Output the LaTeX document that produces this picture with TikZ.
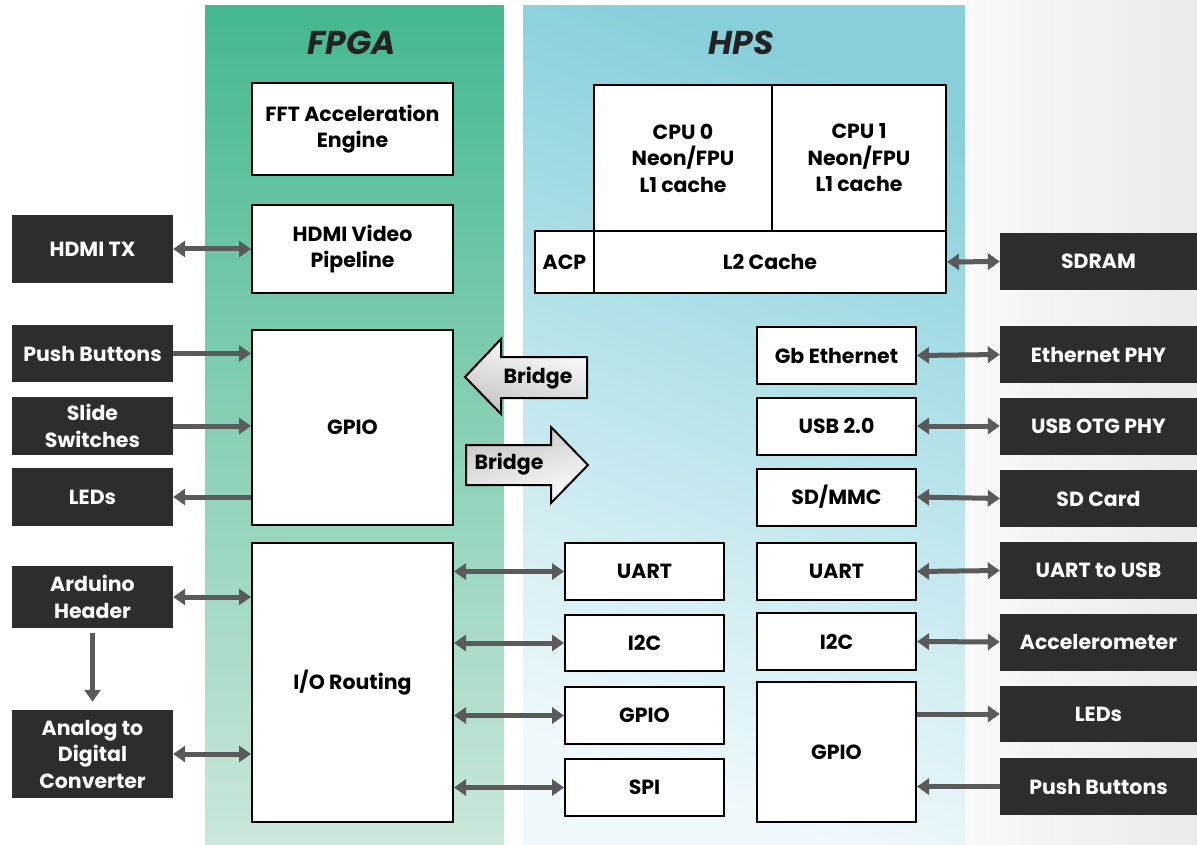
\documentclass[tikz,border=0pt]{standalone}
\usepackage{fontspec}
\setmainfont{Poppins}
\usetikzlibrary{arrows.meta,calc}
\definecolor{darkbox}{HTML}{2D2D2D}
\definecolor{arrowgray}{HTML}{5A5A5A}
\definecolor{fpgaTop}{HTML}{44B88F}
\definecolor{fpgaBot}{HTML}{CAE7D9}
\definecolor{hpsTop}{HTML}{86CFDB}
\definecolor{hpsBot}{HTML}{EFF9FB}
\definecolor{rbgL}{HTML}{F9F9F9}
\definecolor{rbgR}{HTML}{EAEAEA}
\definecolor{titlecol}{HTML}{222222}
\definecolor{bridgegray}{HTML}{C4C4C4}
\newcommand\bxf{\bfseries\fontsize{20.5}{26.5}\selectfont}
\begin{document}
\begin{tikzpicture}[x=1pt,y=-1pt,
  wbox/.style={draw=black, line width=2pt, fill=white, text=black, font=\bxf, align=center, inner sep=0pt},
  dbox/.style={fill=darkbox, text=white, font=\bxf, align=center, inner sep=0pt},
  titletext/.style={font=\bfseries\itshape\fontsize{33}{38}\selectfont, text=titlecol, inner sep=0pt},
  bridgetext/.style={font=\bxf, text=black, inner sep=0pt},
  bridgeshape/.style={draw=black, line width=2pt, line join=miter},
  biarrow/.style={draw=arrowgray, line width=5pt, {Triangle[width=16pt,length=12pt]}-{Triangle[width=16pt,length=12pt]}},
  onearrow/.style={draw=arrowgray, line width=5pt, -{Triangle[width=16pt,length=12pt]}}
]
\useasboundingbox (0,0) rectangle (1197,845);
\fill[white] (0,0) rectangle (1197,845);
\shade[left color=rbgL, right color=rbgR] (965,0) rectangle (1197,845);
\shade[top color=fpgaTop, bottom color=fpgaBot] (205,6) rectangle (504,845);
\shade[top color=hpsTop, bottom color=hpsBot, shading angle=-20] (523,6) rectangle (965,845);

% titles
\node[titletext] (fpgatitle) at (352,43) {FPGA};
\node[titletext] (hpstitle) at (741,43) {HPS};

% FPGA blocks
\node[wbox, minimum width=201pt, minimum height=92pt] (fft) at (352.5,129) {FFT Acceleration\\Engine};
\node[wbox, minimum width=201pt, minimum height=88pt] (hdmiv) at (352.5,249) {HDMI Video\\Pipeline};
\node[wbox, minimum width=201pt, minimum height=195pt] (gpiof) at (352.5,427.5) {GPIO};
\node[wbox, minimum width=201pt, minimum height=279pt] (io) at (352.5,682.5) {I/O Routing};

% left external
\node[dbox, minimum width=161pt, minimum height=68pt] (hdmitx) at (92.5,249) {HDMI TX};
\node[dbox, minimum width=161pt, minimum height=57pt] (pbl) at (92.5,353.5) {Push Buttons};
\node[dbox, minimum width=161pt, minimum height=58pt] (ssw) at (92.5,426) {Slide\\Switches};
\node[dbox, minimum width=161pt, minimum height=58pt] (ledl) at (92.5,497) {LEDs};
\node[dbox, minimum width=161pt, minimum height=62pt] (ard) at (92.5,597) {Arduino\\Header};
\node[dbox, minimum width=161pt, minimum height=88pt] (adc) at (92.5,754) {Analog to\\Digital\\Converter};

% HPS CPU complex
\node[wbox, minimum width=178pt, minimum height=146pt] (cpu0) at (683,158) {CPU 0\\Neon/FPU\\L1 cache};
\node[wbox, minimum width=174pt, minimum height=146pt] (cpu1) at (859,158) {CPU 1\\Neon/FPU\\L1 cache};
\node[wbox, minimum width=352pt, minimum height=62pt] (l2) at (770,262) {L2 Cache};
\node[wbox, minimum width=59pt, minimum height=62pt] (acp) at (564.5,262) {ACP};

% HPS peripherals column 1
\node[wbox, minimum width=159pt, minimum height=57pt] (uartf) at (644.5,571.5) {UART};
\node[wbox, minimum width=159pt, minimum height=56pt] (i2cf) at (644.5,643) {I2C};
\node[wbox, minimum width=159pt, minimum height=57pt] (gpiofh) at (644.5,715.5) {GPIO};
\node[wbox, minimum width=159pt, minimum height=57pt] (spi) at (644.5,787.5) {SPI};

% HPS peripherals column 2
\node[wbox, minimum width=159pt, minimum height=57pt] (eth) at (836.5,355.5) {Gb Ethernet};
\node[wbox, minimum width=159pt, minimum height=57pt] (usb) at (836.5,426) {USB 2.0};
\node[wbox, minimum width=159pt, minimum height=57pt] (sd) at (836.5,497) {SD/MMC};
\node[wbox, minimum width=159pt, minimum height=57pt] (uarth) at (836.5,571.5) {UART};
\node[wbox, minimum width=159pt, minimum height=57pt] (i2ch) at (836.5,641.5) {I2C};
\node[wbox, minimum width=159pt, minimum height=140pt] (gpioh) at (836.5,752) {GPIO};

% right external
\node[dbox, minimum width=197pt, minimum height=57pt] (sdram) at (1098.5,261.5) {SDRAM};
\node[dbox, minimum width=197pt, minimum height=57pt] (ethphy) at (1098.5,354.5) {Ethernet PHY};
\node[dbox, minimum width=197pt, minimum height=57pt] (usbphy) at (1098.5,426) {USB OTG PHY};
\node[dbox, minimum width=197pt, minimum height=57pt] (sdcard) at (1098.5,498.5) {SD Card};
\node[dbox, minimum width=197pt, minimum height=57pt] (uartusb) at (1098.5,570.5) {UART to USB};
\node[dbox, minimum width=197pt, minimum height=57pt] (accel) at (1098.5,642) {Accelerometer};
\node[dbox, minimum width=197pt, minimum height=56pt] (ledr) at (1098.5,714) {LEDs};
\node[dbox, minimum width=197pt, minimum height=57pt] (pbr) at (1098.5,786.5) {Push Buttons};

% bridges
\shade[bridgeshape, left color=white, right color=bridgegray, shading angle=-15]
  (465,377) -- (501,339) -- (501,357) -- (587,357) -- (587,398) -- (501,398) -- (501,414) -- cycle;
\node[bridgetext] (bridge1) at (538,378) {Bridge};
\shade[bridgeshape, left color=bridgegray, right color=white, shading angle=15]
  (466,445) -- (551,445) -- (551,427) -- (588,465) -- (551,503) -- (551,485) -- (466,485) -- cycle;
\node[bridgetext] (bridge2) at (509,464) {Bridge};

% FPGA side connectors
\draw[biarrow] (hdmitx.east) -- (hdmiv.west);
\draw[onearrow] (pbl.east) -- (pbl.east -| gpiof.west);
\draw[onearrow] (ssw.east) -- (ssw.east -| gpiof.west);
\draw[onearrow] (ledl.east -| gpiof.west) -- (ledl.east);
\draw[biarrow] (ard.east) -- (ard.east -| io.west);
\draw[biarrow] (adc.east) -- (adc.east -| io.west);
\draw[onearrow, shorten <=5pt, shorten >=8pt] (ard.south) -- (adc.north);
\draw[biarrow] (uartf.west -| io.east) -- (uartf.west);
\draw[biarrow] (i2cf.west -| io.east) -- (i2cf.west);
\draw[biarrow] (gpiofh.west -| io.east) -- (gpiofh.west);
\draw[biarrow] (spi.west -| io.east) -- (spi.west);

% HPS side connectors
\draw[biarrow] (l2.east) -- (sdram.west);
\draw[biarrow] (eth.east) -- (ethphy.west);
\draw[biarrow] (usb.east) -- (usbphy.west);
\draw[biarrow] (sd.east) -- (sdcard.west);
\draw[biarrow] (uarth.east) -- (uartusb.west);
\draw[biarrow] (i2ch.east) -- (accel.west);
\draw[onearrow] (ledr.west -| gpioh.east) -- (ledr.west);
\draw[onearrow] (pbr.west) -- (pbr.west -| gpioh.east);
\end{tikzpicture}
\end{document}
